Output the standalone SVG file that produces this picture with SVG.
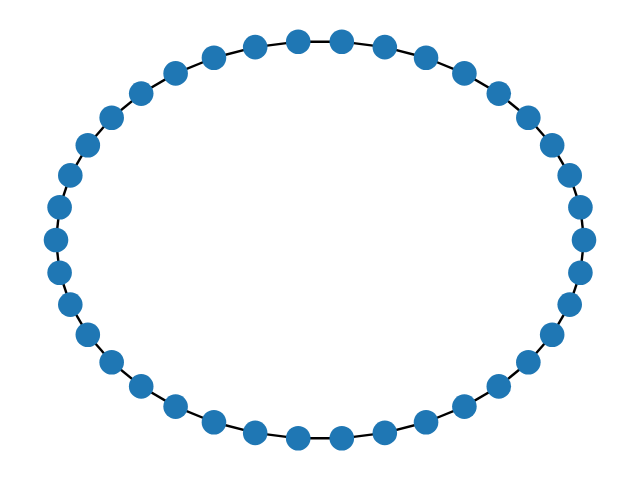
<svg xmlns="http://www.w3.org/2000/svg" width="640" height="480" viewBox="0 0 640 480">
<style>
.e{stroke:#000;stroke-width:2.4;fill:none}
.n circle{fill:#1f77b4}
</style>
<rect width="640" height="480" fill="#fff"/>
<g id="edges">
<line class="e" x1="584" y1="240" x2="580.40" y2="207.25"/>
<line class="e" x1="580.40" y1="207.25" x2="569.70" y2="175.38"/>
<line class="e" x1="569.70" y1="175.38" x2="552.18" y2="145.29"/>
<line class="e" x1="552.18" y1="145.29" x2="528.33" y2="117.77"/>
<line class="e" x1="528.33" y1="117.77" x2="498.80" y2="93.59"/>
<line class="e" x1="498.80" y1="93.59" x2="464.39" y2="73.40"/>
<line class="e" x1="464.39" y1="73.40" x2="426.05" y2="57.76"/>
<line class="e" x1="426.05" y1="57.76" x2="384.81" y2="47.09"/>
<line class="e" x1="384.81" y1="47.09" x2="341.80" y2="41.68"/>
<line class="e" x1="341.80" y1="41.68" x2="298.20" y2="41.68"/>
<line class="e" x1="298.20" y1="41.68" x2="255.19" y2="47.09"/>
<line class="e" x1="255.19" y1="47.09" x2="213.95" y2="57.76"/>
<line class="e" x1="213.95" y1="57.76" x2="175.61" y2="73.40"/>
<line class="e" x1="175.61" y1="73.40" x2="141.20" y2="93.59"/>
<line class="e" x1="141.20" y1="93.59" x2="111.67" y2="117.77"/>
<line class="e" x1="111.67" y1="117.77" x2="87.82" y2="145.29"/>
<line class="e" x1="87.82" y1="145.29" x2="70.30" y2="175.38"/>
<line class="e" x1="70.30" y1="175.38" x2="59.60" y2="207.25"/>
<line class="e" x1="59.60" y1="207.25" x2="56" y2="240"/>
<line class="e" x1="56" y1="240" x2="59.60" y2="272.75"/>
<line class="e" x1="59.60" y1="272.75" x2="70.30" y2="304.62"/>
<line class="e" x1="70.30" y1="304.62" x2="87.82" y2="334.71"/>
<line class="e" x1="87.82" y1="334.71" x2="111.67" y2="362.23"/>
<line class="e" x1="111.67" y1="362.23" x2="141.20" y2="386.41"/>
<line class="e" x1="141.20" y1="386.41" x2="175.61" y2="406.60"/>
<line class="e" x1="175.61" y1="406.60" x2="213.95" y2="422.24"/>
<line class="e" x1="213.95" y1="422.24" x2="255.19" y2="432.91"/>
<line class="e" x1="255.19" y1="432.91" x2="298.20" y2="438.32"/>
<line class="e" x1="298.20" y1="438.32" x2="341.80" y2="438.32"/>
<line class="e" x1="341.80" y1="438.32" x2="384.81" y2="432.91"/>
<line class="e" x1="384.81" y1="432.91" x2="426.05" y2="422.24"/>
<line class="e" x1="426.05" y1="422.24" x2="464.39" y2="406.60"/>
<line class="e" x1="464.39" y1="406.60" x2="498.80" y2="386.41"/>
<line class="e" x1="498.80" y1="386.41" x2="528.33" y2="362.23"/>
<line class="e" x1="528.33" y1="362.23" x2="552.18" y2="334.71"/>
<line class="e" x1="552.18" y1="334.71" x2="569.70" y2="304.62"/>
<line class="e" x1="569.70" y1="304.62" x2="580.40" y2="272.75"/>
<line class="e" x1="580.40" y1="272.75" x2="584" y2="240"/>
</g>
<g id="n0" class="n"><circle cx="584" cy="240" r="12.3"/></g>
<g id="n1" class="n"><circle cx="580.40" cy="207.25" r="12.3"/></g>
<g id="n2" class="n"><circle cx="569.70" cy="175.38" r="12.3"/></g>
<g id="n3" class="n"><circle cx="552.18" cy="145.29" r="12.3"/></g>
<g id="n4" class="n"><circle cx="528.33" cy="117.77" r="12.3"/></g>
<g id="n5" class="n"><circle cx="498.80" cy="93.59" r="12.3"/></g>
<g id="n6" class="n"><circle cx="464.39" cy="73.40" r="12.3"/></g>
<g id="n7" class="n"><circle cx="426.05" cy="57.76" r="12.3"/></g>
<g id="n8" class="n"><circle cx="384.81" cy="47.09" r="12.3"/></g>
<g id="n9" class="n"><circle cx="341.80" cy="41.68" r="12.3"/></g>
<g id="n10" class="n"><circle cx="298.20" cy="41.68" r="12.3"/></g>
<g id="n11" class="n"><circle cx="255.19" cy="47.09" r="12.3"/></g>
<g id="n12" class="n"><circle cx="213.95" cy="57.76" r="12.3"/></g>
<g id="n13" class="n"><circle cx="175.61" cy="73.40" r="12.3"/></g>
<g id="n14" class="n"><circle cx="141.20" cy="93.59" r="12.3"/></g>
<g id="n15" class="n"><circle cx="111.67" cy="117.77" r="12.3"/></g>
<g id="n16" class="n"><circle cx="87.82" cy="145.29" r="12.3"/></g>
<g id="n17" class="n"><circle cx="70.30" cy="175.38" r="12.3"/></g>
<g id="n18" class="n"><circle cx="59.60" cy="207.25" r="12.3"/></g>
<g id="n19" class="n"><circle cx="56" cy="240" r="12.3"/></g>
<g id="n20" class="n"><circle cx="59.60" cy="272.75" r="12.3"/></g>
<g id="n21" class="n"><circle cx="70.30" cy="304.62" r="12.3"/></g>
<g id="n22" class="n"><circle cx="87.82" cy="334.71" r="12.3"/></g>
<g id="n23" class="n"><circle cx="111.67" cy="362.23" r="12.3"/></g>
<g id="n24" class="n"><circle cx="141.20" cy="386.41" r="12.3"/></g>
<g id="n25" class="n"><circle cx="175.61" cy="406.60" r="12.3"/></g>
<g id="n26" class="n"><circle cx="213.95" cy="422.24" r="12.3"/></g>
<g id="n27" class="n"><circle cx="255.19" cy="432.91" r="12.3"/></g>
<g id="n28" class="n"><circle cx="298.20" cy="438.32" r="12.3"/></g>
<g id="n29" class="n"><circle cx="341.80" cy="438.32" r="12.3"/></g>
<g id="n30" class="n"><circle cx="384.81" cy="432.91" r="12.3"/></g>
<g id="n31" class="n"><circle cx="426.05" cy="422.24" r="12.3"/></g>
<g id="n32" class="n"><circle cx="464.39" cy="406.60" r="12.3"/></g>
<g id="n33" class="n"><circle cx="498.80" cy="386.41" r="12.3"/></g>
<g id="n34" class="n"><circle cx="528.33" cy="362.23" r="12.3"/></g>
<g id="n35" class="n"><circle cx="552.18" cy="334.71" r="12.3"/></g>
<g id="n36" class="n"><circle cx="569.70" cy="304.62" r="12.3"/></g>
<g id="n37" class="n"><circle cx="580.40" cy="272.75" r="12.3"/></g>
</svg>
